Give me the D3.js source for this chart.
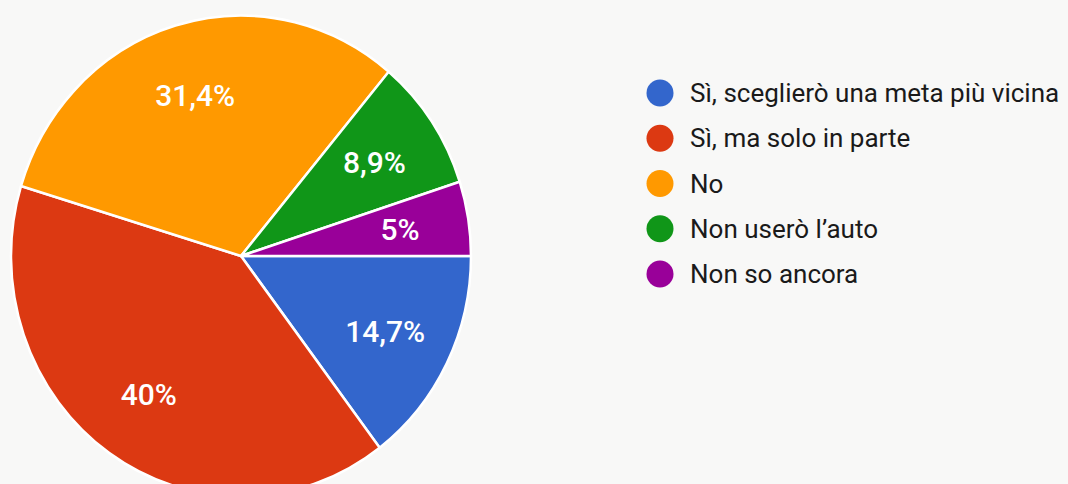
<!DOCTYPE html>
<html>
<head>
<meta charset="utf-8">
<script src="https://cdn.jsdelivr.net/npm/d3@7"></script>
<style>
  html, body { margin: 0; padding: 0; background: #f8f8f7; }
  svg { display: block; }
</style>
</head>
<body>
<svg id="chart" width="1068" height="484"></svg>
<script>
// Survey answers and their shares (percent)
const categories = [
  "Sì, sceglierò una meta più vicina",
  "Sì, ma solo in parte",
  "No",
  "Non userò l’auto",
  "Non so ancora"
];
const shares = [14.7, 40, 31.4, 8.9, 5];
const shareLabels = ["14,7%", "40%", "31,4%", "8,9%", "5%"];
const colors = ["#3366cc", "#dc3912", "#ff9900", "#109618", "#990099"];

const svg = d3.select("#chart");
const cx = 241, cy = 256, R = 230, yStretch = 1.045;

const data = categories.map((c, i) => ({ name: c, value: shares[i], label: shareLabels[i], color: colors[i] }));

// slices run clockwise starting at three o'clock
const pie = d3.pie()
  .value(d => d.value)
  .sort(null)
  .startAngle(Math.PI / 2)
  .endAngle(Math.PI / 2 + 2 * Math.PI);

const arcs = pie(data);
const arc = d3.arc().innerRadius(0).outerRadius(R);

const pieG = svg.append("g")
  .attr("transform", `translate(${cx},${cy}) scale(1,${yStretch})`);

pieG.selectAll("path")
  .data(arcs)
  .join("path")
  .attr("d", arc)
  .attr("fill", d => d.data.color)
  .attr("stroke", "#ffffff")
  .attr("stroke-width", 2.5)
  .attr("stroke-linejoin", "round");

// value labels: narrow slices push their label further out
const labelG = svg.append("g").attr("transform", `translate(${cx},${cy})`);
labelG.selectAll("text")
  .data(arcs)
  .join("text")
  .each(function (d) {
    const span = d.endAngle - d.startAngle;
    const r = span < 0.25 ? R * 0.8 : R * 0.7;
    const a = (d.startAngle + d.endAngle) / 2;
    d3.select(this)
      .attr("x", Math.sin(a) * r)
      .attr("y", -Math.cos(a) * r * yStretch);
  })
  .attr("text-anchor", "middle")
  .attr("dy", "0.36em")
  .attr("fill", "#ffffff")
  .attr("font-family", "Roboto, 'Noto Sans', sans-serif")
  .attr("font-weight", 500)
  .attr("font-size", 30)
  .text(d => d.data.label);

// legend
const legend = svg.append("g").attr("transform", "translate(660,93)");
const rowGap = 45.25;
const items = legend.selectAll("g")
  .data(data)
  .join("g")
  .attr("transform", (d, i) => `translate(0,${i * rowGap})`);

items.append("circle")
  .attr("r", 13.5)
  .attr("fill", d => d.color);

items.append("text")
  .attr("x", 30)
  .attr("y", 9)
  .attr("fill", "#1a1a1a")
  .attr("font-family", "Roboto, 'Noto Sans', sans-serif")
  .attr("font-size", 26)
  .text(d => d.name);
</script>
</body>
</html>
